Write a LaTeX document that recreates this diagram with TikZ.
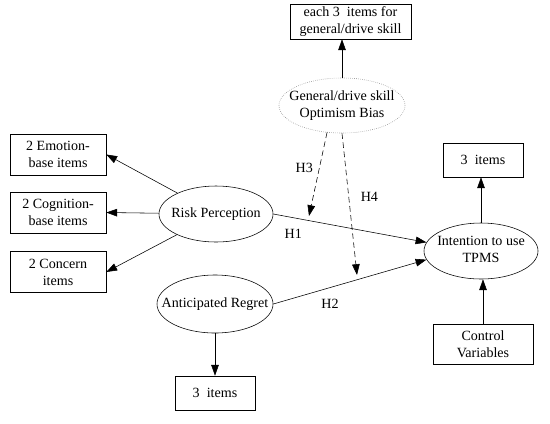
\documentclass[tikz,border=0pt]{standalone}
\usepackage{fontspec}
\setmainfont{Liberation Serif}
\usetikzlibrary{shapes.geometric, arrows.meta}
\tikzset{
->, % every connector is directed
>={Triangle[length=2.7mm,width=1.9mm]}, % filled triangle heads
x=0.025cm, y=-0.025cm, % one unit is one pixel of the sketch, y runs downwards
line width=0.6pt,
latent/.style={ellipse, draw, inner sep=0pt, minimum width=2.85cm, minimum height=1.4cm}, % construct
item/.style={rectangle, draw, inner sep=0pt, align=center}, % measured items
hypo/.style={dash pattern=on 4pt off 2.5pt}, % moderating paths
}
\newcommand{\inell}[1]{\makebox[0pt]{\begin{tabular}{@{}c@{}}#1\end{tabular}}}

\begin{document}
\begin{tikzpicture}[font=\fontsize{10}{12}\selectfont]
        \useasboundingbox (0,0) rectangle (550,423);
        \node[latent, draw=gray, densely dotted, thin, minimum width=3.15cm, minimum height=1.375cm] (opt) at (342,105.5) {\inell{General/drive skill\\Optimism Bias}};
        \node[item, minimum width=3.025cm, minimum height=0.875cm] (each) at (350.5,21.5) {each 3\ \ items for\\general/drive skill};
        \node[latent] (risk) at (216,214) {\inell{Risk Perception}};
        \node[latent, minimum width=2.9cm, minimum height=1.45cm] (regret) at (215,304) {\inell{Anticipated Regret}};
        \node[latent] (intent) at (481,251) {\inell{Intention to use\\TPMS}};
        \node[item, minimum width=2.4cm, minimum height=1.025cm] (emo) at (58,154.5) {2 Emotion-\\base items};
        \node[item, minimum width=2.4cm, minimum height=1.025cm] (cog) at (58,212.5) {2 Cognition-\\base items};
        \node[item, minimum width=2.4cm, minimum height=1.025cm] (con) at (58,272) {2 Concern\\items};
        \node[item, minimum width=2cm, minimum height=0.85cm] (titems) at (483,160) {3\ \ items};
        \node[item, minimum width=2.5cm, minimum height=1cm] (ctrl) at (483,344) {Control\\Variables};
        \node[item, minimum width=2cm, minimum height=0.85cm] (ritems) at (215,393) {3\ \ items};
        \coordinate (h3end) at (309,216);
        \coordinate (h4end) at (357,275);

        \path (opt.north) edge (opt.north |- each.south)
              (risk) edge (emo.east)
                     edge (cog.east)
                     edge (con.east)
              (risk.east) edge node[below=4.5pt, pos=0.13]{H1} (intent.171)
              (regret.east) edge node[below=4.5pt, pos=0.37]{H2} (intent.189)
              (regret) edge (regret |- ritems.north)
              (intent) edge (intent |- titems.south)
              (ctrl) edge (ctrl |- intent.south)
              (opt.241) edge[hypo] node[left=1pt, pos=0.43]{H3} (h3end)
              (opt.south) edge[hypo] node[right=5pt, pos=0.45]{H4} (h4end);
\end{tikzpicture}
\end{document}
